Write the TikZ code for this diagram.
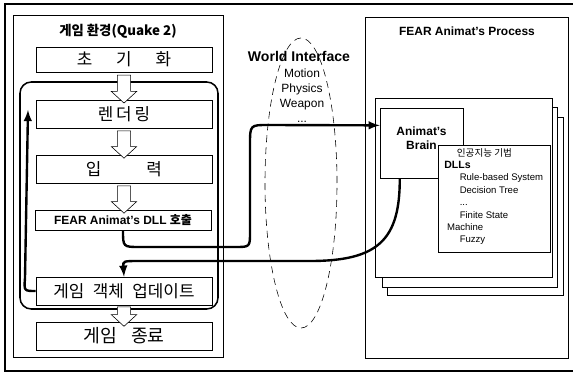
\documentclass[tikz,border=0pt]{standalone}
\usepackage{fontspec}
\setmainfont{Liberation Sans}
\newfontfamily\kr{Noto Sans CJK KR}
\usetikzlibrary{shapes.arrows,shapes.geometric,calc}

\begin{document}
\begin{tikzpicture}[x=0.025cm,y=-0.025cm,>=latex,
  stage/.style={draw,fill=white,minimum width=4.4cm,minimum height=0.7cm,inner sep=0pt,
    font=\kr\fontsize{12}{12}\selectfont},
  flow/.style={single arrow,draw,fill=white,shape border rotate=270,inner sep=0.16cm,
    single arrow head extend=0.15cm,single arrow tip angle=95},
  page/.style={draw,fill=white},
  link/.style={->,line width=1.7pt}]
  \useasboundingbox (0,0) rectangle (573,374);
  \draw[line width=0.8pt] (573,4) -- (5,4) -- (5,371) -- (573,371);

  % game loop side
  \node[draw,minimum width=5.25cm,minimum height=8.55cm] (game) at (118,186) {};
  \node[font=\kr\bfseries\fontsize{9.5}{10}\selectfont] (gtitle) at (118,31) {게임 환경(Quake 2)};
  \draw[line width=1.1pt,rounded corners=8] (20,82) rectangle (218,309);
  \node[stage,minimum height=0.625cm] (init) at (124,59.5) {초\hspace{17pt}기\hspace{17pt}화};
  \node[stage] (render) at (124,114) {렌\hspace{2pt}더\hspace{2pt}링};
  \node[stage] (input) at (124,169) {입\hspace{32pt}력};
  \node[stage,minimum height=0.5cm,font=\bfseries\fontsize{8.5}{10}\selectfont] (dllcall) at (123,220)
    {FEAR Animat's DLL {\kr 호출}};
  \node[stage] (upd) at (124,291) {게임\hspace{6pt}객체\hspace{6pt}업데이트};
  \node[stage,font=\kr\fontsize{13}{13}\selectfont] (end) at (124,336) {게임\hspace{10pt}종료};
  \node[flow,minimum height=0.7cm] (f1) at (124,86) {};
  \node[flow,minimum height=0.68cm] (f2) at (124,141.5) {};
  \node[flow,minimum height=0.68cm] (f3) at (124,196.5) {};
  \node[flow,minimum height=0.42cm] (f4) at (124,313.5) {};

  % world interface
  \node[draw,dash pattern=on 5pt off 3.5pt,ellipse,minimum width=1.8cm,minimum height=7.25cm] (wi) at (301,183) {};
  \node[font=\bfseries\fontsize{10}{11}\selectfont] (witxt) at (299,56) {World Interface};
  \node[font=\fontsize{8.5}{10.6}\selectfont,align=center] (wilist) at (302,96) {Motion\\Physics\\Weapon\\...};

  % animat process side
  \node[draw,minimum width=5.075cm,minimum height=8.525cm] (fear) at (466.5,187.5) {};
  \node[font=\bfseries\fontsize{8.5}{10}\selectfont] (ftitle) at (467,31) {FEAR Animat's Process};
  \draw[page] (387,117) rectangle (563,295);
  \draw[page] (382,107) rectangle (557,287);
  \draw[page] (375,98) rectangle (552,277);
  \node[draw,fill=white,minimum width=2.075cm,minimum height=1.75cm] (brain) at (421.5,143) {};
  \node[font=\bfseries\fontsize{8.5}{10}\selectfont,align=center] (braintxt) at (421.5,138) {Animat's\\Brain};
  \node[draw,fill=white,minimum width=2.8cm,minimum height=2.675cm] (dlls) at (494,198.5) {};
  \node[anchor=north west,inner sep=0pt,align=left,font=\fontsize{6.8}{8.8}\selectfont] (dlltxt) at (444,148)
    {\hspace*{9pt}{\kr 인공지능 기법}\\
     {\bfseries\fontsize{7.5}{8.8}\selectfont DLLs}\\
     \hspace*{11pt}Rule-based System\\
     \hspace*{11pt}Decision Tree\\
     \hspace*{11pt}...\\
     \hspace*{11pt}Finite State\\
     \hspace*{2pt}Machine\\
     \hspace*{11pt}Fuzzy};

  % connectors
  \coordinate (brainin) at ($(brain.north west)!0.25!(brain.south west)$);
  \coordinate (brainout) at ($(brain.south west)!0.24!(brain.south east)$);
  \coordinate (loopend) at (28,110);
  \draw[link] (dllcall.south) .. controls (123,247) .. (140,247) -- (235,247)
    .. controls (250,247) .. (250,232) -- (250,145) .. controls (250,125) .. (268,125) -- (brainin);
  \draw[link] (brainout) .. controls (400,240) and (378,261) .. (310,261) -- (140,261)
    .. controls (123,261) .. (upd.north);
  \draw[link] (upd.west) .. controls (24,291) .. (25,278) -- (loopend);
\end{tikzpicture}
\end{document}
